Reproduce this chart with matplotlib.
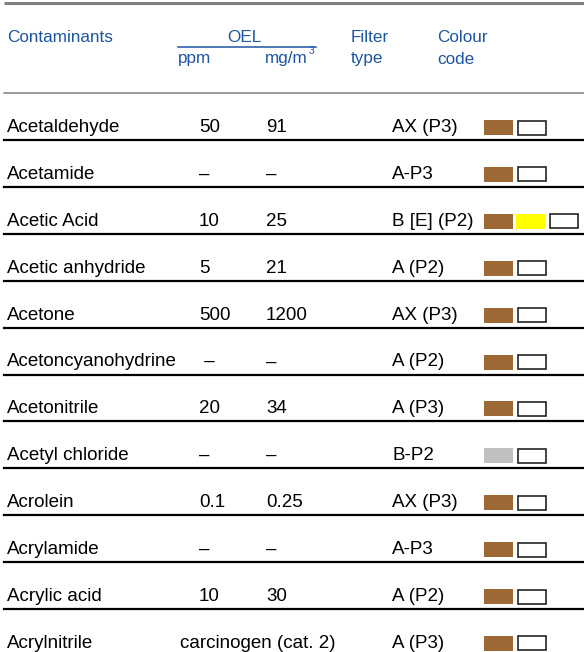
import matplotlib
matplotlib.use('Agg')
import matplotlib.pyplot as plt
from matplotlib.patches import Rectangle

plt.rcParams['font.family'] = ['Liberation Sans', 'DejaVu Sans']

# ---- table data ----
contaminants = ['Acetaldehyde', 'Acetamide', 'Acetic Acid', 'Acetic anhydride',
                'Acetone', 'Acetoncyanohydrine', 'Acetonitrile', 'Acetyl chloride',
                'Acrolein', 'Acrylamide', 'Acrylic acid', 'Acrylnitrile']
oel_ppm = ['50', '–', '10', '5', '500', ' –', '20', '–', '0.1', '–', '10',
           'carcinogen (cat. 2)']
oel_mg = ['91', '–', '25', '21', '1200', '–', '34', '–', '0.25', '–', '30', '']
filter_type = ['AX (P3)', 'A-P3', 'B [E] (P2)', 'A (P2)', 'AX (P3)', 'A (P2)',
               'A (P3)', 'B-P2', 'AX (P3)', 'A-P3', 'A (P2)', 'A (P3)']
colour_code = [['brown', 'white'], ['brown', 'white'], ['brown', 'yellow', 'white'],
               ['brown', 'white'], ['brown', 'white'], ['brown', 'white'],
               ['brown', 'white'], ['grey', 'white'], ['brown', 'white'],
               ['brown', 'white'], ['brown', 'white'], ['brown', 'white']]

SWATCH = {'brown': '#9c6834', 'yellow': '#ffff00', 'grey': '#c0c0c0', 'white': '#ffffff'}
BLUE = '#1c55a3'
W, H = 584, 652

fig = plt.figure(figsize=(W / 100, H / 100), dpi=100)
ax = fig.add_axes([0, 0, 1, 1])
ax.set_xlim(0, W)
ax.set_ylim(H, 0)
ax.axis('off')

# header
ax.plot([4, W], [3, 3], color='#808080', lw=2.2, solid_capstyle='butt')
hs = 12.3
ax.text(7, 37, 'Contaminants', color=BLUE, fontsize=hs, va='center')
ax.text(244, 37, 'OEL', color=BLUE, fontsize=hs, va='center', ha='center')
ax.plot([178, 316], [46.5, 46.5], color=BLUE, lw=1.1)
ax.text(178, 59, 'ppm', color=BLUE, fontsize=hs, va='center')
ax.text(265, 59, 'mg/m', color=BLUE, fontsize=hs, va='center')
ax.text(309, 51, '3', color=BLUE, fontsize=7.5, va='center')
ax.text(351, 37, 'Filter', color=BLUE, fontsize=hs, va='center')
ax.text(351, 59, 'type', color=BLUE, fontsize=hs, va='center')
ax.text(437, 37, 'Colour', color=BLUE, fontsize=hs, va='center')
ax.text(437, 59, 'code', color=BLUE, fontsize=hs, va='center')
ax.plot([4, W], [93, 93], color='#808080', lw=1.1)

# rows
pitch = 46.9
fs = 13.5
for i, name in enumerate(contaminants):
    line_y = 140 + pitch * i
    y = line_y - 12.5
    ax.text(7, y, name, fontsize=fs, va='center', color='black')
    if oel_mg[i]:
        ax.text(199, y, oel_ppm[i], fontsize=fs, va='center')
        ax.text(266, y, oel_mg[i], fontsize=fs, va='center')
    else:
        ax.text(180, y, oel_ppm[i], fontsize=fs, va='center')
    ax.text(392, y, filter_type[i], fontsize=fs, va='center')
    x0 = 484
    for c in colour_code[i]:
        if c == 'white':
            ax.add_patch(Rectangle((x0 + 1.5, y - 7), 28, 14, facecolor='white',
                                   edgecolor='#222222', lw=1.2))
        else:
            ax.add_patch(Rectangle((x0, y - 7.5), 29, 15, facecolor=SWATCH[c],
                                   edgecolor='none'))
        x0 += 32
    if line_y < H:
        ax.plot([4, W], [line_y, line_y], color='black', lw=1.6)

fig.savefig('out.png', dpi=100)
